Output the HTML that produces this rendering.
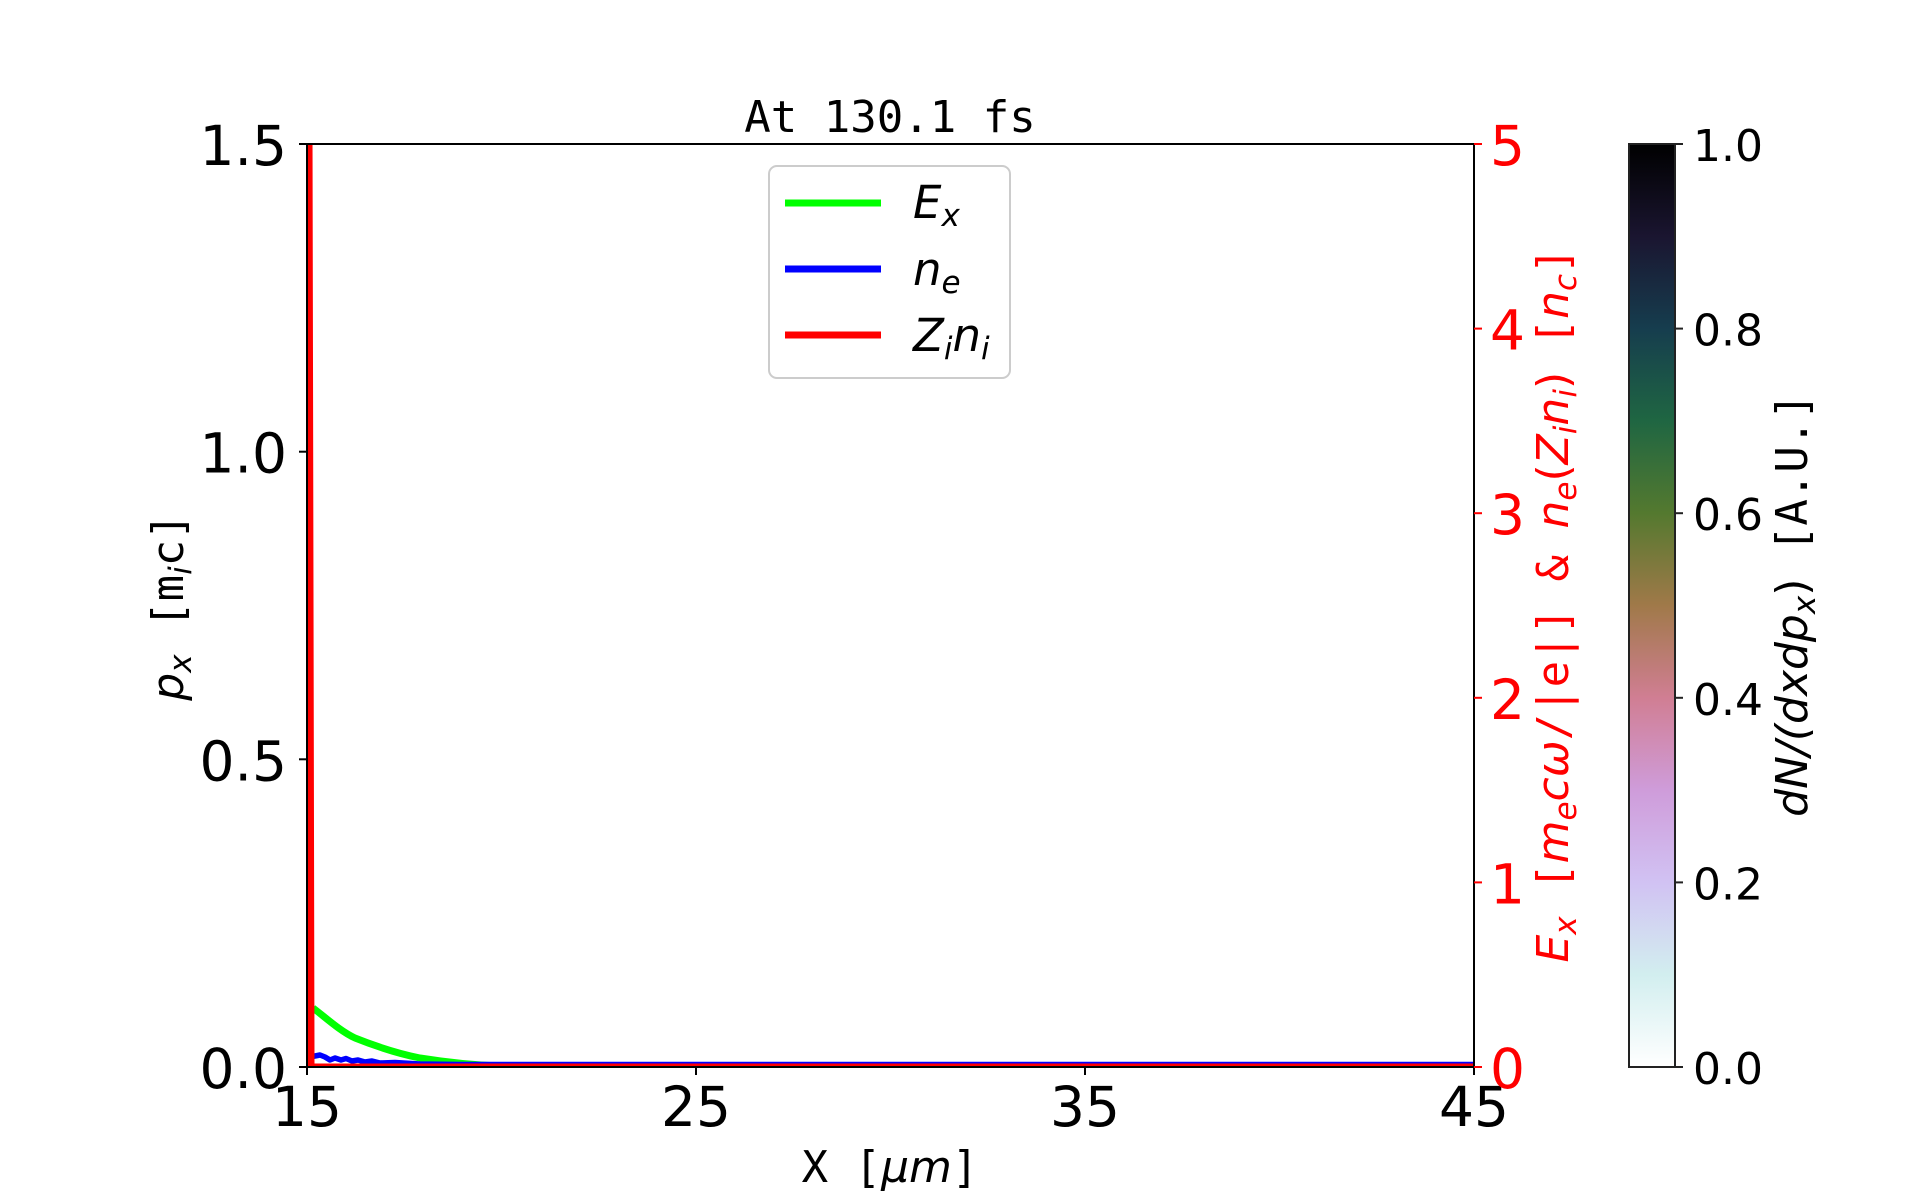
<!DOCTYPE html>
<html><head><meta charset="utf-8"><style>
html,body{margin:0;padding:0;background:#fff;}
svg{display:block;}
.s{font-family:"DejaVu Sans","Liberation Sans",sans-serif;}
.m{font-family:"DejaVu Sans Mono","Liberation Mono",monospace;}
.i{font-family:"DejaVu Sans","Liberation Sans",sans-serif;font-style:italic;}
</style></head><body>
<svg width="1920" height="1200" viewBox="0 0 1920 1200" xmlns="http://www.w3.org/2000/svg">
<defs>
<linearGradient id="ch" x1="0" y1="0" x2="0" y2="1">
<stop offset="0" stop-color="#000000"/>
<stop offset="0.1" stop-color="#1a1530"/>
<stop offset="0.2" stop-color="#163d4e"/>
<stop offset="0.3" stop-color="#1f6642"/>
<stop offset="0.4" stop-color="#54792f"/>
<stop offset="0.5" stop-color="#a07949"/>
<stop offset="0.6" stop-color="#d07e93"/>
<stop offset="0.7" stop-color="#cf9cda"/>
<stop offset="0.8" stop-color="#d1c2f3"/>
<stop offset="0.9" stop-color="#d2eeef"/>
<stop offset="1" stop-color="#ffffff"/>
</linearGradient>
<clipPath id="ax"><rect x="307" y="144" width="1167" height="923"/></clipPath>
</defs>
<rect width="1920" height="1200" fill="#fff"/>

<!-- curves -->
<g clip-path="url(#ax)" fill="none" stroke-linejoin="round" stroke-linecap="butt">
<path d="M313,1008 C325,1017 340,1031 355,1038 C375,1046 395,1053 420,1058 C445,1062 470,1065 500,1066 L1474,1066.5" stroke="#00ff00" stroke-width="7"/>
<path d="M309,1064 L310,700 L311.5,1057 L315,1056 L320,1055 L325,1057 L330,1060 L335,1058 L341,1060 L346,1058.5 L352,1061 L358,1060 L365,1062 L372,1061 L380,1063 L395,1062.5 L420,1064 L460,1064.5 L1474,1064.5" stroke="#0000ff" stroke-width="5.5"/>
<path d="M309,1067 L310,130 L312,1066 L1474,1066" stroke="#ff0000" stroke-width="5"/>
</g>

<!-- axes frame -->
<rect x="307" y="144" width="1167" height="923" fill="none" stroke="#000" stroke-width="2"/>

<!-- left ticks -->
<g stroke="#000" stroke-width="2">
<line x1="299" y1="144" x2="307" y2="144"/>
<line x1="299" y1="451.7" x2="307" y2="451.7"/>
<line x1="299" y1="759.3" x2="307" y2="759.3"/>
<line x1="299" y1="1067" x2="307" y2="1067"/>
<line x1="307" y1="1067" x2="307" y2="1075"/>
<line x1="696" y1="1067" x2="696" y2="1075"/>
<line x1="1085" y1="1067" x2="1085" y2="1075"/>
<line x1="1474" y1="1067" x2="1474" y2="1075"/>
</g>
<!-- right ticks -->
<g stroke="#ff0000" stroke-width="2">
<line x1="1474" y1="144" x2="1482" y2="144"/>
<line x1="1474" y1="328.6" x2="1482" y2="328.6"/>
<line x1="1474" y1="513.2" x2="1482" y2="513.2"/>
<line x1="1474" y1="697.8" x2="1482" y2="697.8"/>
<line x1="1474" y1="882.4" x2="1482" y2="882.4"/>
<line x1="1474" y1="1067" x2="1482" y2="1067"/>
</g>

<!-- left tick labels -->
<g class="s" font-size="55" fill="#000" text-anchor="end">
<text x="287" y="165">1.5</text>
<text x="287" y="472.7">1.0</text>
<text x="287" y="780.3">0.5</text>
<text x="287" y="1088">0.0</text>
</g>
<!-- x tick labels -->
<g class="s" font-size="55" fill="#000" text-anchor="middle">
<text x="307" y="1126">15</text>
<text x="696" y="1126">25</text>
<text x="1085" y="1126">35</text>
<text x="1474" y="1126">45</text>
</g>
<!-- right tick labels -->
<g class="s" font-size="55" fill="#ff0000">
<text x="1490" y="165">5</text>
<text x="1490" y="349.6">4</text>
<text x="1490" y="534.2">3</text>
<text x="1490" y="718.8">2</text>
<text x="1490" y="903.4">1</text>
<text x="1490" y="1088">0</text>
</g>

<!-- title -->
<text class="m" x="890" y="132" font-size="44" text-anchor="middle" fill="#000">At 130.1 fs</text>

<!-- x label -->
<text x="890" y="1182" font-size="44" text-anchor="middle" fill="#000"><tspan class="m">X [</tspan><tspan class="i">μm</tspan><tspan class="m">]</tspan></text>

<!-- y label -->
<g transform="translate(183,607) rotate(-90)">
<text x="0" y="0" font-size="44" text-anchor="middle" fill="#000"><tspan class="i">p</tspan><tspan class="i" font-size="31" dy="8">x</tspan><tspan class="m" dy="-8"> [m</tspan><tspan class="i" font-size="31" dy="8">i</tspan><tspan class="m" dy="-8">c]</tspan></text>
</g>

<!-- right label -->
<g transform="translate(1568,605) rotate(-90)">
<text x="0" y="0" font-size="44" text-anchor="middle" fill="#ff0000"><tspan class="i">E</tspan><tspan class="i" font-size="31" dy="8">x</tspan><tspan class="m" dy="-8"> [</tspan><tspan class="i">m</tspan><tspan class="i" font-size="31" dy="8">e</tspan><tspan class="i" dy="-8">cω</tspan><tspan class="m">/|e|] &amp; </tspan><tspan class="i">n</tspan><tspan class="i" font-size="31" dy="8">e</tspan><tspan class="s" dy="-8">(</tspan><tspan class="i">Z</tspan><tspan class="i" font-size="31" dy="8">i</tspan><tspan class="i" dy="-8">n</tspan><tspan class="i" font-size="31" dy="8">i</tspan><tspan class="s" dy="-8">)</tspan><tspan class="m"> [</tspan><tspan class="i">n</tspan><tspan class="i" font-size="31" dy="8">c</tspan><tspan class="m" dy="-8">]</tspan></text>
</g>

<!-- legend -->
<rect x="769" y="166" width="241" height="212" rx="8" ry="8" fill="#fff" fill-opacity="0.8" stroke="#cccccc" stroke-width="2"/>
<g stroke-width="7">
<line x1="785" y1="203" x2="881" y2="203" stroke="#00ff00"/>
<line x1="785" y1="269" x2="881" y2="269" stroke="#0000ff"/>
<line x1="785" y1="335" x2="881" y2="335" stroke="#ff0000"/>
</g>
<g font-size="45" fill="#000">
<text x="913" y="218"><tspan class="i">E</tspan><tspan class="i" font-size="31" dy="8">x</tspan></text>
<text x="913" y="285"><tspan class="i">n</tspan><tspan class="i" font-size="31" dy="8">e</tspan></text>
<text x="913" y="351"><tspan class="i">Z</tspan><tspan class="i" font-size="31" dy="8">i</tspan><tspan class="i" dy="-8">n</tspan><tspan class="i" font-size="31" dy="8">i</tspan></text>
</g>

<!-- colorbar -->
<rect x="1629" y="144" width="46" height="923" fill="url(#ch)" stroke="#222" stroke-width="2"/>
<g stroke="#222" stroke-width="2">
<line x1="1675" y1="144" x2="1683" y2="144"/>
<line x1="1675" y1="328.6" x2="1683" y2="328.6"/>
<line x1="1675" y1="513.2" x2="1683" y2="513.2"/>
<line x1="1675" y1="697.8" x2="1683" y2="697.8"/>
<line x1="1675" y1="882.4" x2="1683" y2="882.4"/>
<line x1="1675" y1="1067" x2="1683" y2="1067"/>
</g>
<g class="s" font-size="44" fill="#000">
<text x="1693" y="161">1.0</text>
<text x="1693" y="345.6">0.8</text>
<text x="1693" y="530.2">0.6</text>
<text x="1693" y="714.8">0.4</text>
<text x="1693" y="899.4">0.2</text>
<text x="1693" y="1084">0.0</text>
</g>
<g transform="translate(1807,605) rotate(-90)">
<text x="0" y="0" font-size="44" text-anchor="middle" fill="#000"><tspan class="i">dN/(dxdp</tspan><tspan class="i" font-size="31" dy="8">x</tspan><tspan class="s" dy="-8">)</tspan><tspan class="m"> [A.U.]</tspan></text>
</g>
</svg>
</body></html>
